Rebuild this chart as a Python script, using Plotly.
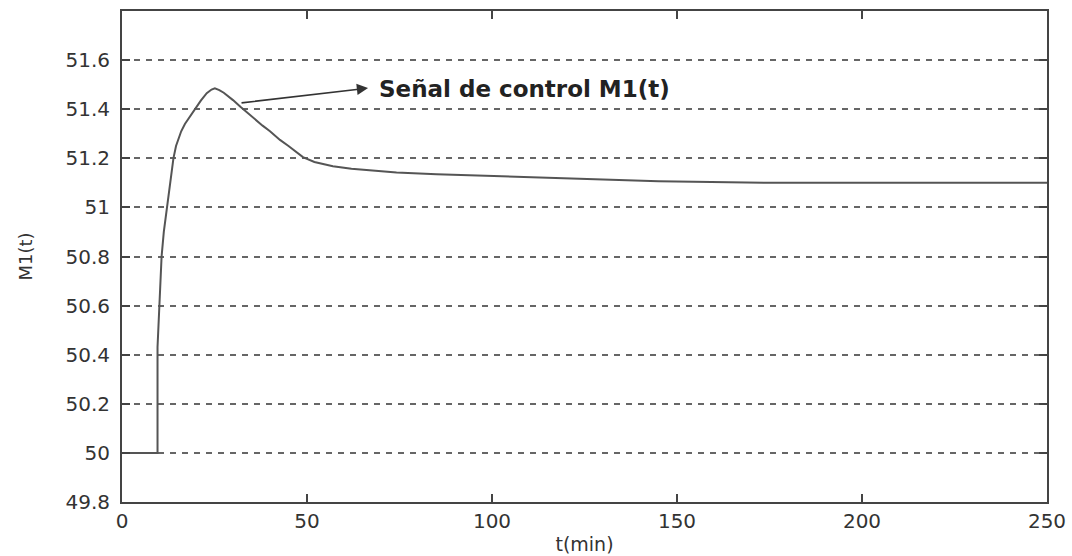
import plotly.graph_objects as go

# Control signal M1(t)
t_min = [0, 9.6, 9.6, 10.1, 10.7, 11.3, 12.1, 13.0, 13.9, 14.6, 15.2, 16.0, 17.0, 18.3, 19.7, 21.3,
         22.9, 24.2, 25.1, 26.3, 27.5, 28.8, 30.0, 32.0, 35.0, 38.0, 40.0, 42.7, 45.0, 46.8, 48.9,
         52.0, 57.0, 62.0, 67.0, 74.2, 85.0, 95.0, 104.0, 115.0, 127.0, 145.0, 175.0, 250.0]
m1 = [50.0, 50.0, 50.43, 50.595, 50.8, 50.9, 51.0, 51.1, 51.2, 51.25, 51.28, 51.31, 51.34, 51.37,
      51.40, 51.435, 51.465, 51.48, 51.485, 51.478, 51.467, 51.452, 51.437, 51.41, 51.37, 51.333,
      51.31, 51.275, 51.25, 51.228, 51.205, 51.185, 51.168, 51.157, 51.15, 51.142, 51.135, 51.13,
      51.125, 51.12, 51.113, 51.107, 51.10, 51.10]

x_ticks = [0, 50, 100, 150, 200, 250]
y_ticks = [49.8, 50.0, 50.2, 50.4, 50.6, 50.8, 51.0, 51.2, 51.4, 51.6]
y_tick_text = ["49.8", "50", "50.2", "50.4", "50.6", "50.8", "51", "51.2", "51.4", "51.6"]

annot_text = "Señal de control M1(t)"
arrow_tail = (31.9, 51.425)
arrow_head = (66.5, 51.486)
text_pos = (69.0, 51.484)

font_family = "DejaVu Sans"
text_color = "#333333"

fig = go.Figure()
fig.add_trace(go.Scatter(x=t_min, y=m1, mode="lines",
                         line=dict(color="#555555", width=2), showlegend=False,
                         hoverinfo="skip"))

fig.add_annotation(x=arrow_head[0], y=arrow_head[1], ax=arrow_tail[0], ay=arrow_tail[1],
                   xref="x", yref="y", axref="x", ayref="y", text="",
                   showarrow=True, arrowhead=2, arrowsize=1.4, arrowwidth=1.6,
                   arrowcolor="#333333", standoff=0, startstandoff=0)
fig.add_annotation(x=text_pos[0], y=text_pos[1], xref="x", yref="y",
                   text="<b>" + annot_text + "</b>", showarrow=False,
                   xanchor="left", yanchor="middle",
                   font=dict(family=font_family, size=23, color="#222222"))

axis_common = dict(showline=True, linecolor="#444444", linewidth=2, mirror="ticks",
                   ticks="inside", ticklen=8, tickwidth=1.5, tickcolor="#444444",
                   tickfont=dict(family=font_family, size=20, color=text_color),
                   zeroline=False, automargin=False)

fig.update_xaxes(range=[0, 250], tickvals=x_ticks, showgrid=False,
                 title=dict(text="t(min)", font=dict(family=font_family, size=19, color=text_color),
                            standoff=6),
                 **axis_common)
fig.update_yaxes(range=[49.8, 51.8], tickvals=y_ticks, ticktext=y_tick_text,
                 showgrid=True, gridcolor="#666666", gridwidth=1.5, griddash="6px,6px",
                 ticklabelstandoff=6,
                 title=dict(text="M1(t)", font=dict(family=font_family, size=18, color=text_color),
                            standoff=28),
                 **axis_common)

fig.update_layout(width=1072, height=556, plot_bgcolor="white", paper_bgcolor="white",
                  margin=dict(l=122, r=25, t=11, b=54), font=dict(family=font_family))

fig.write_html("out.html")
